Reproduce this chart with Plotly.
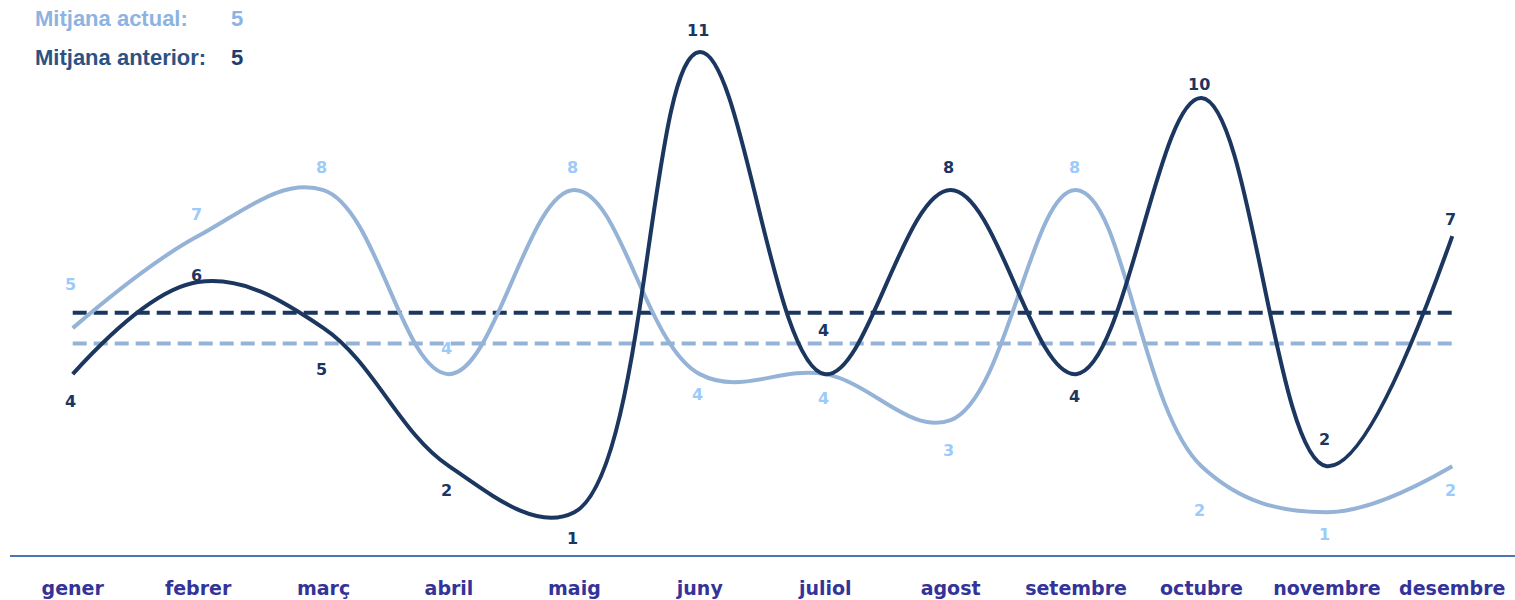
import plotly.graph_objects as go

MONTHS = ['gener', 'febrer', 'març', 'abril', 'maig', 'juny', 'juliol',
          'agost', 'setembre', 'octubre', 'novembre', 'desembre']
ACTUAL = [5, 7, 8, 4, 8, 4, 4, 3, 8, 2, 1, 2]
ANTERIOR = [4, 6, 5, 2, 1, 11, 4, 8, 4, 10, 2, 7]
AVG_ACTUAL = sum(ACTUAL) / len(ACTUAL)
AVG_ANTERIOR = sum(ANTERIOR) / len(ANTERIOR)

DARK = '#1b365f'
LIGHT = '#95b3d7'
LIGHT_TXT = '#9ccbfb'
AXIS = '#4a76b8'
TICK = '#333399'

# pixel offsets of value labels (positive = above the point)
SHIFT_ACTUAL = [44, 22, 23, 26, 23, -20, -24, -30, 23, -44, -22, -24]
SHIFT_ANTERIOR = [-27, 7, -41, -24, -26, 22, 44, 23, -22, 14, 27, 17]

fig = go.Figure()
fig.add_scatter(x=MONTHS, y=[AVG_ANTERIOR] * len(MONTHS), mode='lines',
                line=dict(color=DARK, width=4, dash='14px,7px'), hoverinfo='skip')
fig.add_scatter(x=MONTHS, y=[AVG_ACTUAL] * len(MONTHS), mode='lines',
                line=dict(color=LIGHT, width=4, dash='14px,7px'), hoverinfo='skip')
fig.add_scatter(x=MONTHS, y=ACTUAL, mode='lines', name='Actual',
                line=dict(color=LIGHT, width=4, shape='spline', smoothing=1.1))
fig.add_scatter(x=MONTHS, y=ANTERIOR, mode='lines', name='Anterior',
                line=dict(color=DARK, width=4, shape='spline', smoothing=1.1))

for vals, shifts, col in [(ACTUAL, SHIFT_ACTUAL, LIGHT_TXT), (ANTERIOR, SHIFT_ANTERIOR, DARK)]:
    for m, v, s in zip(MONTHS, vals, shifts):
        fig.add_annotation(x=m, y=v, text=str(v), showarrow=False, yshift=s, xshift=-2,
                           font=dict(family='DejaVu Sans', size=16, color=col, weight='bold'))

legend_font = dict(family='Liberation Sans', size=22, weight='bold')
for label, avg, ypos, c_lbl, c_val in [
        ('Mitjana actual:', AVG_ACTUAL, 0.966, '#8db3e2', '#8db3e2'),
        ('Mitjana anterior:', AVG_ANTERIOR, 0.897, '#2c5282', '#1f3c6b')]:
    fig.add_annotation(xref='paper', yref='paper', x=0.0153, y=ypos, xanchor='left',
                       yanchor='middle', text=label, showarrow=False,
                       font=dict(legend_font, color=c_lbl))
    fig.add_annotation(xref='paper', yref='paper', x=0.1508, y=ypos, xanchor='center',
                       yanchor='middle', text=str(round(avg)), showarrow=False,
                       font=dict(legend_font, color=c_val))

fig.update_layout(
    width=1515, height=600, showlegend=False,
    paper_bgcolor='white', plot_bgcolor='white',
    margin=dict(l=10, r=0, t=0, b=45),
    xaxis=dict(range=[-0.5, 11.5], showgrid=False, zeroline=False,
               showline=True, linecolor=AXIS, linewidth=1.5, ticks='',
               ticklabelstandoff=15,
               tickfont=dict(family='DejaVu Sans', size=19, color=TICK, weight='bold')),
    yaxis=dict(range=[0.07, 12.13], visible=False, showgrid=False, zeroline=False),
)

fig.write_html('out.html', config={'displayModeBar': False},
               post_script="document.body.style.margin='0';")
